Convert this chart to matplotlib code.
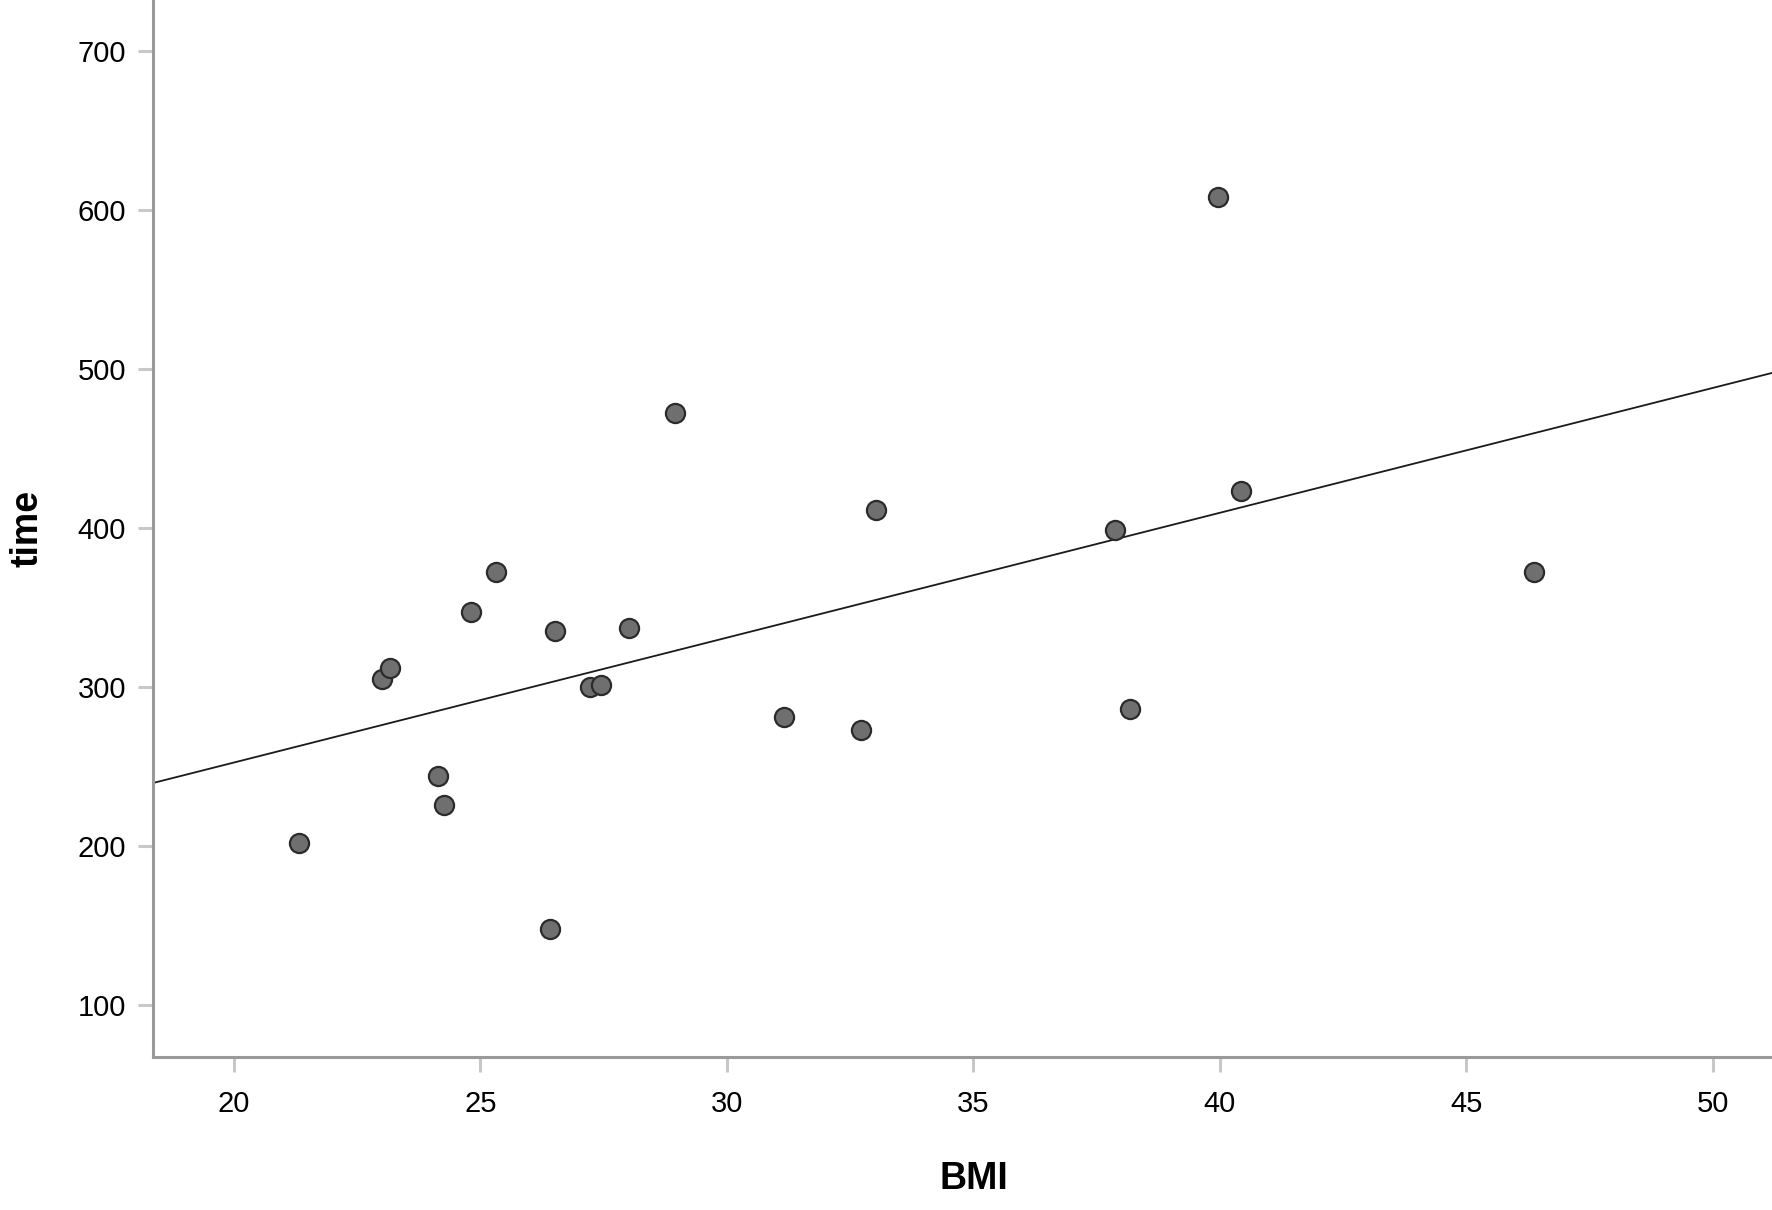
import numpy as np
import matplotlib.pyplot as plt

# --- Datos ---
bmi = [21.33, 23.00, 23.16, 24.15, 24.26, 24.81, 25.32, 26.42, 26.51, 27.22, 27.45,
       28.02, 28.94, 31.16, 32.72, 33.02, 37.88, 38.18, 39.96, 40.42, 46.38]
time = [202, 305, 312, 244, 226, 347, 372, 148, 335, 300, 301,
        337, 472, 281, 273, 411, 399, 286, 608, 423, 372]

x_ticks = [20, 25, 30, 35, 40, 45, 50]
y_ticks = [100, 200, 300, 400, 500, 600, 700]

plt.rcParams['font.family'] = ['Liberation Sans', 'DejaVu Sans']

fig = plt.figure(figsize=(17.72, 12.10), dpi=100)
ax = fig.add_axes([0.0861, 0.1264, 1 - 0.0861, 1 - 0.1264])

ax.set_xlim(18.35, 51.2)
ax.set_ylim(67.3, 732)

# recta de regresión
slope, intercept = np.polyfit(bmi, time, 1)
xs = np.array(ax.get_xlim())
ax.plot(xs, intercept + slope * xs, color='#1a1a1a', lw=1.3, zorder=2)

ax.scatter(bmi, time, s=190, facecolor='#6f6f6f', edgecolor='#2b2b2b',
           linewidth=1.6, zorder=3)

ax.set_xticks(x_ticks)
ax.set_yticks(y_ticks)
ax.tick_params(axis='both', direction='out', length=11, width=2.2,
               color='#c8c8c8', labelsize=21)
ax.tick_params(axis='x', pad=13)
ax.tick_params(axis='y', pad=8)

for side in ['top', 'right']:
    ax.spines[side].set_visible(False)
for side in ['left', 'bottom']:
    ax.spines[side].set_color('#9a9a9a')
    ax.spines[side].set_linewidth(2.2)

ax.set_xlabel('BMI', fontsize=27, fontweight='bold', va='center')
ax.set_ylabel('time', fontsize=27, fontweight='bold', va='center')
ax.xaxis.set_label_coords(0.507, -0.1154)
ax.yaxis.set_label_coords(-0.0775, 0.5005)

fig.savefig('out.png', dpi=100)
plt.close(fig)
